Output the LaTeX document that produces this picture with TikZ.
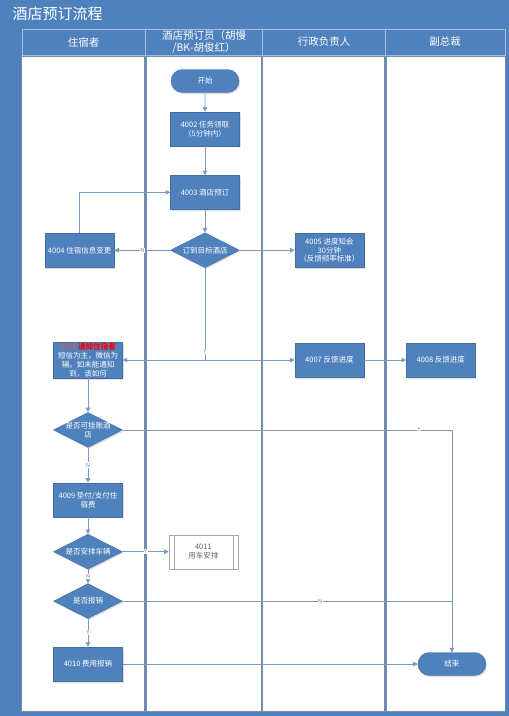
\documentclass[tikz,border=0pt]{standalone}
\usepackage{fontspec}
\setmainfont{Noto Sans CJK SC}
\usepackage{xcolor}
\usepackage{tikz}
\usetikzlibrary{arrows.meta, positioning, shapes.geometric, shapes.misc, shadows}
\definecolor{flowblue}{RGB}{79, 129, 189}
\definecolor{laneline}{RGB}{112, 140, 176}
\definecolor{linkblue}{RGB}{122, 154, 194}
\definecolor{headline}{RGB}{160, 190, 222}

\begin{document}
\begin{tikzpicture}[x=1pt, y=-1pt,
    task/.style={rectangle, draw=flowblue!85!black, fill=flowblue, text=white,
                 minimum width=69pt, minimum height=34pt, inner sep=1pt, align=center,
                 font=\fontsize{7.5}{8.8}\selectfont,
                 drop shadow={shadow xshift=1pt, shadow yshift=-1.5pt, opacity=0.25}},
    decision/.style={diamond, aspect=2, draw=flowblue!85!black, fill=flowblue, text=white,
                 minimum width=69pt, minimum height=35pt, inner sep=-2pt, align=center,
                 font=\fontsize{7.5}{8.8}\selectfont,
                 drop shadow={shadow xshift=1pt, shadow yshift=-1.5pt, opacity=0.25}},
    terminal/.style={rounded rectangle, draw=flowblue!85!black, fill=flowblue, text=white,
                 minimum width=70pt, minimum height=23pt, inner sep=1pt,
                 font=\fontsize{7.5}{8.8}\selectfont,
                 drop shadow={shadow xshift=1pt, shadow yshift=-1.5pt, opacity=0.25}},
    subproc/.style={rectangle, draw=gray!70, fill=white, text=gray!80!black,
                 minimum width=69pt, minimum height=34pt, inner sep=1pt, align=center,
                 font=\fontsize{7.5}{8.8}\selectfont},
    header/.style={text=white, align=center, font=\fontsize{10.5}{12.5}\selectfont},
    title/.style={text=white, anchor=west, font=\fontsize{15}{17}\selectfont},
    lbl/.style={text=gray, fill=white, inner sep=0.6pt, font=\fontsize{5.5}{6.5}\selectfont},
    link/.style={linkblue, line width=0.8pt},
    arrow/.style={-{Triangle[width=4.5pt, length=4.5pt]}, linkblue, line width=0.8pt}
]
\useasboundingbox (0,0) rectangle (509,716);
\fill [flowblue] (0,0) rectangle (509,716);
\fill [white] (22,56) rectangle (505,711);
\draw [laneline, line width=1.6pt] (21.5,56) rectangle (505.5,711.5);
\foreach \xl in {145.5, 262, 385.5}
  \draw [laneline, line width=2.6pt] (\xl,56) -- (\xl,711.5);
\foreach \xa/\xb in {22/145.5, 145.5/262, 262/385.5, 385.5/505}
  \draw [headline, line width=0.6pt] (\xa,29) rectangle (\xb,55);

\node (title) [title] at (9,14) {酒店预订流程};
\node (h1) [header] at (83.5,42) {住宿者};
\node (h2) [header] at (204,42) {酒店预订员（胡慢\\/BK-胡俊红）};
\node (h3) [header] at (324,42) {行政负责人};
\node (h4) [header] at (445,42) {副总裁};

\node (start) [terminal] at (205,81) {开始};
\node (n4002) [task, below=19pt of start] {4002 任务领取\\（5分钟内）};
\node (n4003) [task, below=29pt of n4002] {4003 酒店预订};
\node (d1) [decision, below=23pt of n4003] {订到目标酒店};
\node (n4004) [task, left=56pt of d1] {4004 住宿信息变更};
\node (n4005) [task, right=55pt of d1] {4005 进度知会\\30分钟\\（反馈频率标准）};

\node (n4006) [task, minimum height=36pt] at (88,360)
  {\textcolor{red!70}{4006} \textcolor{red}{\bfseries 通知住宿者}\\短信为主，微信为\\辅。如未能通知\\到，该如何};
\node (n4007) [task, right=172pt of n4006] {4007 反馈进度};
\node (n4008) [task, right=42pt of n4007] {4008 反馈进度};
\node (d2) [decision, below=34pt of n4006] {是否可挂账酒\\店};
\node (n4009) [task, below=35pt of d2] {4009 垫付/支付住\\宿费};
\node (d3) [decision, below=17pt of n4009] {是否安排车辆};
\node (n4011) [subproc, right=46pt of d3] {4011\\用车安排};
\node (d4) [decision, below=14pt of d3] {是否报销};
\node (n4010) [task, below=28pt of d4] {4010 费用报销};
\node (finish) [terminal, right=295pt of n4010] {结束};
\draw [gray!70] ([xshift=5pt]n4011.north west) -- ([xshift=5pt]n4011.south west);
\draw [gray!70] ([xshift=-5pt]n4011.north east) -- ([xshift=-5pt]n4011.south east);

\coordinate (j1) at (d1.south |- n4006.east);
\draw [arrow] (start) -- (n4002);
\draw [arrow] (n4002) -- (n4003);
\draw [arrow] (n4003) -- (d1);
\draw [arrow] (d1) -- node[lbl] {N} (n4004);
\draw [arrow] (n4004.north) |- (n4003.west);
\draw [arrow] (d1) -- (n4005);
\draw [link] (d1.south) -- node[lbl, pos=0.91] {Y} (j1);
\draw [arrow] (j1) -- (n4006.east);
\draw [arrow] (j1) -- (n4007.west);
\draw [arrow] (n4007) -- (n4008);
\draw [arrow] (n4006) -- (d2);
\draw [arrow] (d2.east) -| node[lbl, pos=0.45] {Y} (finish.north);
\draw [arrow] (d2) -- node[lbl] {N} (n4009);
\draw [arrow] (n4009) -- (d3);
\draw [arrow] (d3) -- node[lbl] {Y} (n4011);
\draw [arrow] (d3) -- node[lbl] {N} (d4);
\draw [link] (d4.east) -- node[lbl, pos=0.6] {N} (d4.east -| finish.north);
\draw [arrow] (d4) -- node[lbl] {Y} (n4010);
\draw [arrow] (n4010) -- (finish);
\end{tikzpicture}
\end{document}
